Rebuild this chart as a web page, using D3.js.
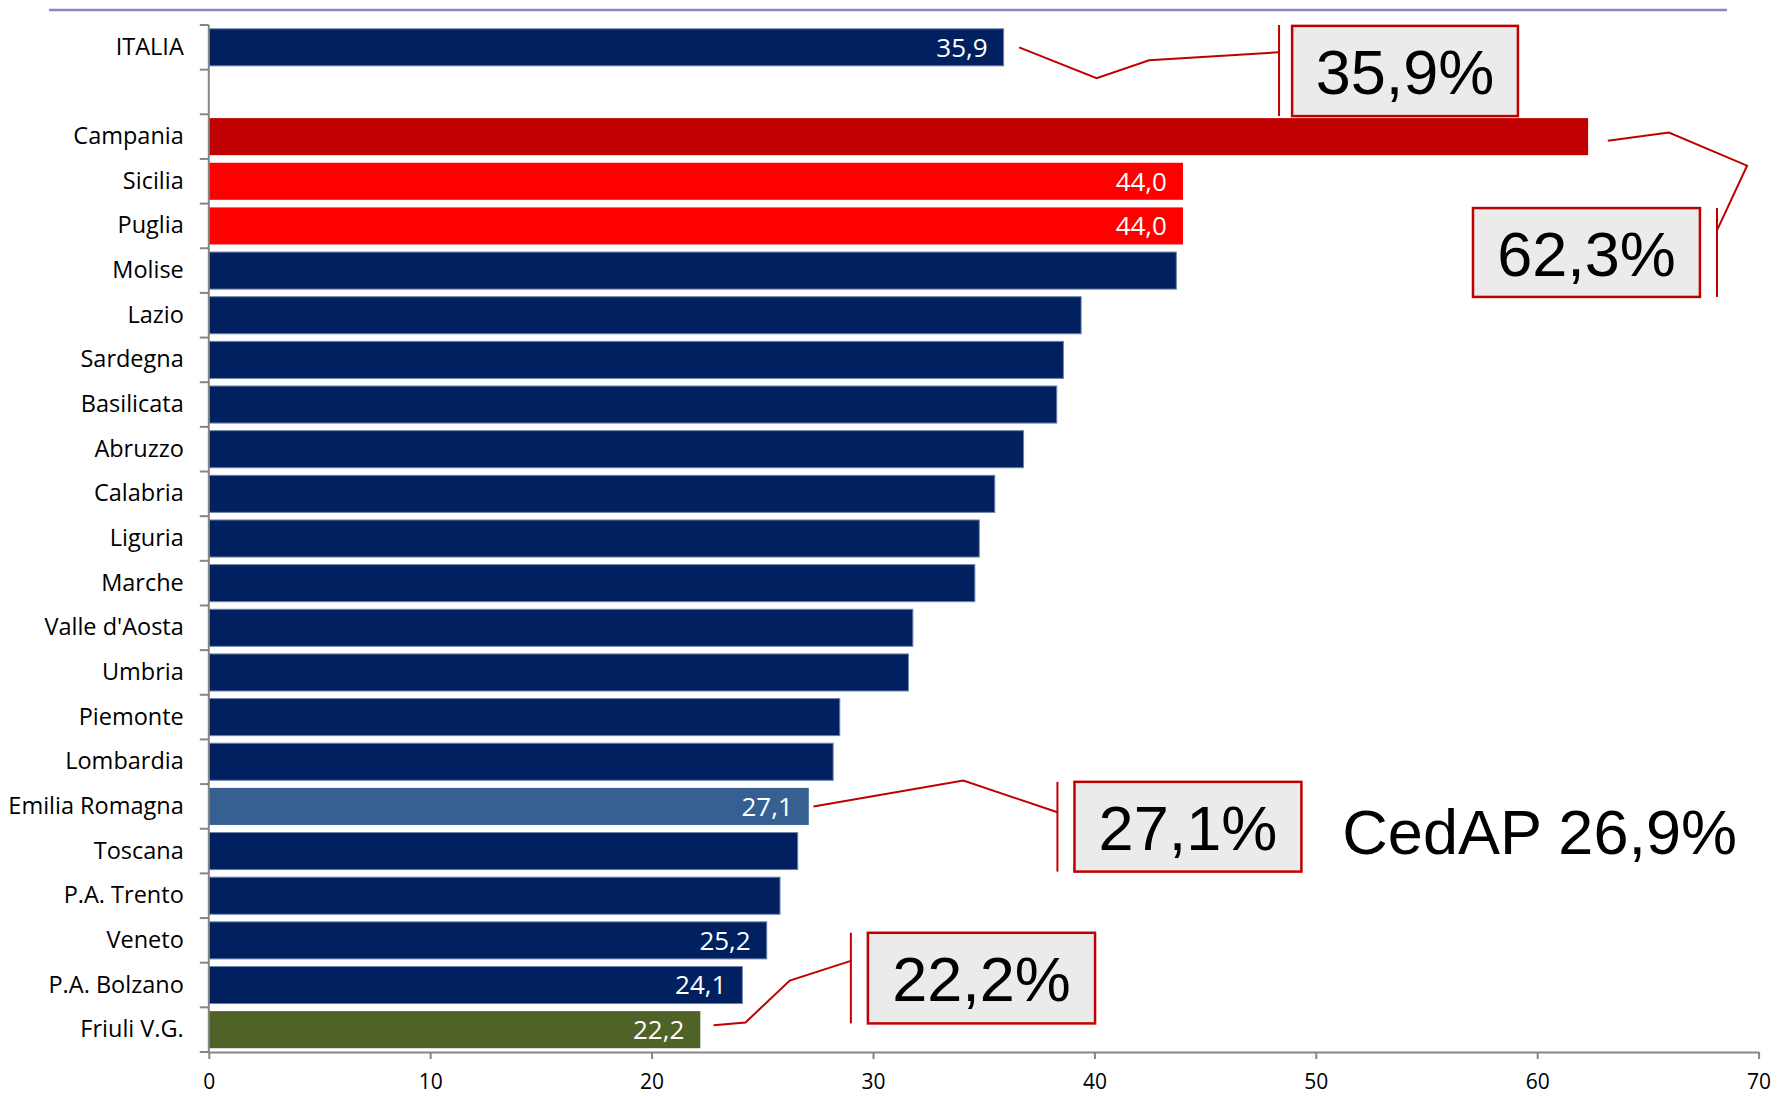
<!DOCTYPE html>
<html lang="it">
<head>
<meta charset="utf-8">
<script src="https://cdn.jsdelivr.net/npm/d3@7"></script>
<style>
  html, body { margin: 0; padding: 0; background: #ffffff; }
  svg { display: block; }
</style>
</head>
<body>
<svg id="chart" width="1779" height="1096"></svg>
<script>
// Categorie (la seconda riga è uno spazio vuoto tra ITALIA e le regioni)
const categories = [
  "ITALIA", "", "Campania", "Sicilia", "Puglia", "Molise", "Lazio", "Sardegna",
  "Basilicata", "Abruzzo", "Calabria", "Liguria", "Marche", "Valle d'Aosta",
  "Umbria", "Piemonte", "Lombardia", "Emilia Romagna", "Toscana", "P.A. Trento",
  "Veneto", "P.A. Bolzano", "Friuli V.G."
];

// Percentuale per categoria
const values = [
  35.9, null, 62.3, 44.0, 44.0, 43.7, 39.4, 38.6,
  38.3, 36.8, 35.5, 34.8, 34.6, 31.8,
  31.6, 28.5, 28.2, 27.1, 26.6, 25.8,
  25.2, 24.1, 22.2
];

// Barre con etichetta del valore all'interno
const labelled = ["ITALIA", "Sicilia", "Puglia", "Emilia Romagna", "Veneto", "P.A. Bolzano", "Friuli V.G."];

// Colori evidenziati
const highlightColors = {
  "Campania": "#C00000",
  "Sicilia": "#FF0000",
  "Puglia": "#FF0000",
  "Emilia Romagna": "#376092",
  "Friuli V.G.": "#4F6228"
};
const baseColor = "#002060";

const xTicks = [0, 10, 20, 30, 40, 50, 60, 70];

// Riquadri di richiamo
const calloutTexts = ["35,9%", "62,3%", "27,1%", "22,2%"];
const noteText = "CedAP 26,9%";

const fmt = v => d3.format(".1f")(v).replace(".", ",");

const svg = d3.select("#chart");

const plotLeft = 208.8, plotRight = 1758.6, plotTop = 25, plotBottom = 1052;
const x = d3.scaleLinear().domain([0, 70]).range([plotLeft, plotRight]);
const y = d3.scaleBand().domain(categories).range([plotTop, plotBottom])
  .paddingInner(0.17).paddingOuter(0.085);
const step = y.step();
// posizione verticale in unità di riga (0 = bordo superiore della prima riga)
const Y = s => plotTop + s * step;

// linea decorativa superiore
svg.append("line")
  .attr("x1", 49).attr("x2", 1727).attr("y1", 10).attr("y2", 10)
  .attr("stroke", "#8888c6").attr("stroke-width", 2.5);

const rows = categories.map((c, i) => ({ c, v: values[i] })).filter(d => d.v != null);

// barre
svg.append("g").selectAll("rect").data(rows).join("rect")
  .attr("x", x(0))
  .attr("y", d => y(d.c))
  .attr("width", d => x(d.v) - x(0))
  .attr("height", y.bandwidth())
  .attr("fill", d => highlightColors[d.c] || baseColor)
  .attr("stroke", d => highlightColors[d.c] ? "none" : "#6f82ad")
  .attr("stroke-width", 1);

// etichette dei valori
svg.append("g").selectAll("text").data(rows.filter(d => labelled.includes(d.c))).join("text")
  .attr("x", d => x(d.v) - 16)
  .attr("y", d => y(d.c) + y.bandwidth() / 2)
  .attr("dy", "0.36em")
  .attr("text-anchor", "end")
  .attr("font-family", "'Open Sans', sans-serif")
  .attr("font-size", 26)
  .attr("fill", "#ffffff")
  .text(d => fmt(d.v));

// asse verticale con tacche ai bordi delle righe
const yAxis = svg.append("g").attr("transform", `translate(${plotLeft},0)`)
  .call(d3.axisLeft(y).tickSize(0).tickPadding(25));
yAxis.select(".domain").remove();
yAxis.selectAll("text")
  .attr("font-family", "'Open Sans', sans-serif")
  .attr("font-size", 23.5)
  .attr("fill", "#000");

const boundaries = d3.range(categories.length + 1).map(i => Y(i));
svg.append("g").selectAll("line").data(boundaries).join("line")
  .attr("x1", plotLeft - 9).attr("x2", plotLeft)
  .attr("y1", d => d).attr("y2", d => d)
  .attr("stroke", "#868686").attr("stroke-width", 2);
svg.append("line")
  .attr("x1", plotLeft).attr("x2", plotLeft).attr("y1", plotTop).attr("y2", plotBottom)
  .attr("stroke", "#868686").attr("stroke-width", 2);

// asse orizzontale
const xAxis = svg.append("g").attr("transform", `translate(0,${plotBottom})`)
  .call(d3.axisBottom(x).tickValues(xTicks).tickSize(7).tickPadding(15).tickSizeOuter(0));
xAxis.select(".domain").attr("stroke", "#868686").attr("stroke-width", 2);
xAxis.selectAll(".tick line").attr("stroke", "#868686").attr("stroke-width", 2);
xAxis.selectAll("text")
  .attr("font-family", "'Open Sans', sans-serif")
  .attr("font-size", 21)
  .attr("fill", "#000");

// richiami: linea guida (valore, riga), barra verticale e riquadro
const callouts = [
  { text: calloutTexts[0],
    path: [[36.6, 0.5], [40.1, 1.19], [42.47, 0.79], [48.34, 0.61]],
    bar: [48.34, 0, 2.04], box: [48.93, 59.13, 0.02, 2.04] },
  { text: calloutTexts[1],
    path: [[63.19, 2.59], [65.95, 2.41], [69.48, 3.15], [68.12, 4.6]],
    bar: [68.12, 4.1, 6.09], box: [57.1, 67.35, 4.1, 6.09] },
  { text: calloutTexts[2],
    path: [[27.31, 17.5], [34.08, 16.92], [38.33, 17.63]],
    bar: [38.33, 16.95, 18.96], box: [39.1, 49.35, 16.95, 18.96] },
  { text: calloutTexts[3],
    path: [[22.8, 22.4], [24.24, 22.34], [26.24, 21.4], [29.0, 20.96]],
    bar: [29.0, 20.33, 22.36], box: [29.77, 40.03, 20.33, 22.36] }
];

const line = d3.line().x(p => x(p[0])).y(p => Y(p[1]));
const cg = svg.append("g");
callouts.forEach(c => {
  cg.append("path").attr("d", line(c.path))
    .attr("fill", "none").attr("stroke", "#C00000").attr("stroke-width", 2);
  cg.append("line")
    .attr("x1", x(c.bar[0])).attr("x2", x(c.bar[0]))
    .attr("y1", Y(c.bar[1])).attr("y2", Y(c.bar[2]))
    .attr("stroke", "#C00000").attr("stroke-width", 2);
  const bx0 = x(c.box[0]), bx1 = x(c.box[1]), by0 = Y(c.box[2]), by1 = Y(c.box[3]);
  cg.append("rect")
    .attr("x", bx0).attr("y", by0).attr("width", bx1 - bx0).attr("height", by1 - by0)
    .attr("fill", "#EBEBEB").attr("stroke", "#C00000").attr("stroke-width", 2.5);
  cg.append("text")
    .attr("x", (bx0 + bx1) / 2).attr("y", (by0 + by1) / 2 + 23)
    .attr("text-anchor", "middle")
    .attr("font-family", "'Liberation Sans', Arial, sans-serif")
    .attr("font-size", 63)
    .attr("fill", "#000")
    .text(c.text);
});

svg.append("text")
  .attr("x", x(51.2)).attr("y", 854)
  .attr("font-family", "'Liberation Sans', Arial, sans-serif")
  .attr("font-size", 63)
  .attr("fill", "#000")
  .text(noteText);
</script>
</body>
</html>
